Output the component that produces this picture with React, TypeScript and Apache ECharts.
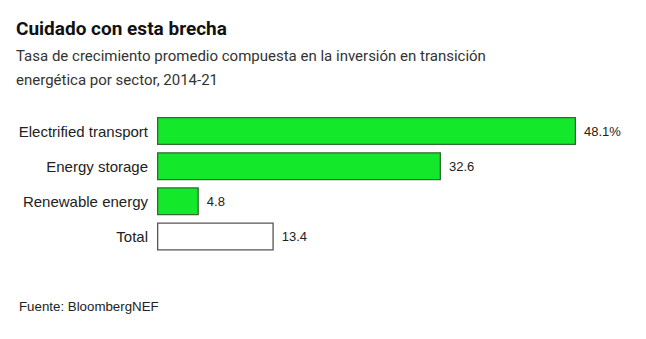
import React, { useEffect, useRef } from "react";
import * as echarts from "echarts";

const categories = ["Electrified transport", "Energy storage", "Renewable energy", "Total"];
const values = [48.1, 32.6, 4.8, 13.4];
const fills = ["#13e82a", "#13e82a", "#13e82a", "#ffffff"];
const borders = ["#2f6b33", "#2f6b33", "#2f6b33", "#555555"];

const titleText = "Cuidado con esta brecha";
const subtitleLines = [
  "Tasa de crecimiento promedio compuesta en la inversión en transición",
  "energética por sector, 2014-21",
];
const sourceText = "Fuente: BloombergNEF";

const FONT = "'Liberation Sans', Arial, sans-serif";
const HEAD = "Roboto, 'Liberation Sans', sans-serif";

export default function App() {
  const ref = useRef<HTMLDivElement>(null);
  useEffect(() => {
    document.body.style.margin = "0";
    const chart = echarts.init(ref.current!, null, { renderer: "svg" });
    chart.setOption({
      animation: false,
      backgroundColor: "#ffffff",
      textStyle: { fontFamily: FONT },
      graphic: [
        {
          type: "text",
          left: 16,
          top: 19,
          style: {
            text: titleText,
            font: `bold 19px ${HEAD}`,
            fill: "#111111",
          },
        },
        {
          type: "text",
          left: 16,
          top: 44,
          style: {
            text: subtitleLines.join("\n"),
            font: `15px ${HEAD}`,
            lineHeight: 24,
            fill: "#333333",
          },
        },
        {
          type: "text",
          left: 19,
          top: 300,
          style: {
            text: sourceText,
            font: `13.3px ${FONT}`,
            fill: "#222222",
          },
        },
      ],
      grid: { left: 157, right: 70, top: 113.5, height: 140.5, containLabel: false },
      xAxis: {
        type: "value",
        min: 0,
        max: "dataMax",
        show: false,
      },
      yAxis: {
        type: "category",
        inverse: true,
        data: categories,
        axisLine: { show: false },
        axisTick: { show: false },
        splitLine: { show: false },
        axisLabel: {
          margin: 9,
          fontSize: 15,
          color: "#222222",
          fontFamily: FONT,
        },
      },
      series: [
        {
          type: "bar",
          barWidth: "80%",
          data: values.map((v, i) => ({
            value: v,
            itemStyle: { color: fills[i], borderColor: borders[i], borderWidth: 1.3 },
          })),
          label: {
            show: true,
            position: "right",
            distance: 8,
            fontSize: 13,
            color: "#222222",
            fontFamily: FONT,
            formatter: (p: any) => (p.dataIndex === 0 ? `${p.value}%` : `${p.value}`),
          },
        },
      ],
    });
    return () => chart.dispose();
  }, []);
  return <div ref={ref} style={{ width: 646, height: 339 }} />;
}
